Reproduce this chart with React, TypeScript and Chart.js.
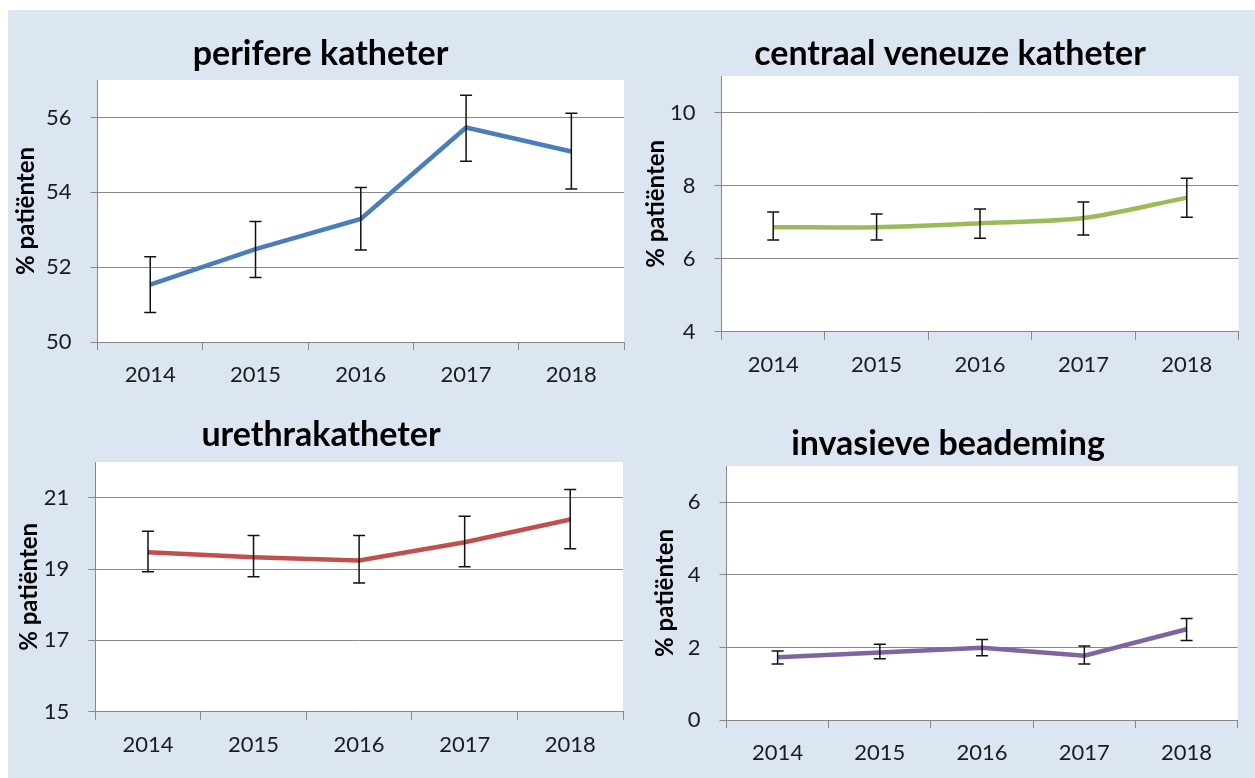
import React, { useEffect, useRef } from "react";
import { Chart, registerables } from "chart.js";

Chart.register(...registerables);

// ---------- data ----------
const YEARS = ["2014", "2015", "2016", "2017", "2018"];
const Y_TITLE = "% patiënten";

const PERIFEER_TITLE = "perifere katheter";
const PERIFEER = [51.53, 52.48, 53.29, 55.73, 55.09];
const PERIFEER_LOW = [50.79, 51.72, 52.46, 54.83, 54.09];
const PERIFEER_HIGH = [52.28, 53.22, 54.13, 56.59, 56.11];
const PERIFEER_TICKS = [50, 52, 54, 56];
const PERIFEER_RANGE = [50, 57];

const CVK_TITLE = "centraal veneuze katheter";
const CVK = [6.86, 6.86, 6.97, 7.11, 7.67];
const CVK_LOW = [6.51, 6.51, 6.56, 6.65, 7.13];
const CVK_HIGH = [7.28, 7.22, 7.36, 7.55, 8.2];
const CVK_TICKS = [4, 6, 8, 10];
const CVK_RANGE = [4, 11];

const URETHRA_TITLE = "urethrakatheter";
const URETHRA = [19.47, 19.33, 19.24, 19.75, 20.39];
const URETHRA_LOW = [18.92, 18.78, 18.61, 19.06, 19.57];
const URETHRA_HIGH = [20.06, 19.94, 19.94, 20.48, 21.23];
const URETHRA_TICKS = [15, 17, 19, 21];
const URETHRA_RANGE = [15, 22];

const BEADEMING_TITLE = "invasieve beademing";
const BEADEMING = [1.73, 1.86, 1.99, 1.77, 2.5];
const BEADEMING_LOW = [1.54, 1.69, 1.77, 1.54, 2.19];
const BEADEMING_HIGH = [1.9, 2.09, 2.22, 2.04, 2.8];
const BEADEMING_TICKS = [0, 2, 4, 6];
const BEADEMING_RANGE = [0, 7];

// ---------- styling ----------
const BG = "#dce6f2";
const GRID = "#878787";
const TXT = "#1b1b1b";
const FONT = "Lato, 'Noto Sans', sans-serif";

const bgPlugin = {
  id: "plotBg",
  beforeDraw(chart: any) {
    const { ctx, chartArea } = chart;
    if (!chartArea) return;
    ctx.save();
    ctx.fillStyle = "#ffffff";
    ctx.fillRect(chartArea.left, chartArea.top, chartArea.right - chartArea.left, chartArea.bottom - chartArea.top);
    ctx.restore();
  },
};

const errorBarPlugin = {
  id: "errorBars",
  afterDatasetsDraw(chart: any, _args: any, opts: any) {
    const { ctx } = chart;
    const xs = chart.scales.x;
    const ys = chart.scales.y;
    const low: number[] = opts.low || [];
    const high: number[] = opts.high || [];
    ctx.save();
    ctx.strokeStyle = "#111";
    ctx.lineWidth = 1.5;
    for (let i = 0; i < low.length; i++) {
      const x = xs.getPixelForValue(i);
      const y1 = ys.getPixelForValue(low[i]);
      const y2 = ys.getPixelForValue(high[i]);
      ctx.beginPath();
      ctx.moveTo(x, y1);
      ctx.lineTo(x, y2);
      ctx.moveTo(x - 6, y1);
      ctx.lineTo(x + 6, y1);
      ctx.moveTo(x - 6, y2);
      ctx.lineTo(x + 6, y2);
      ctx.stroke();
    }
    ctx.restore();
  },
};

type Panel = {
  title: string;
  values: number[];
  low: number[];
  high: number[];
  ticks: number[];
  range: number[];
  color: string;
  tension: number;
  left: number;
  top: number;
  width: number;
  height: number;
  yw: number;
  xh: number;
  padLeft: number;
  padRight: number;
  titleTop: number;
  titleBottom: number;
  ytPad: number;
};

const PANELS: Panel[] = [
  {
    title: PERIFEER_TITLE, values: PERIFEER, low: PERIFEER_LOW, high: PERIFEER_HIGH,
    ticks: PERIFEER_TICKS, range: PERIFEER_RANGE, color: "#4a7ebb", tension: 0,
    left: 8, top: 10, width: 625, height: 385, padLeft: 9, yw: 80.6, xh: 53, padRight: 9,
    titleTop: 24.1, titleBottom: 5.1, ytPad: -4.9,
  },
  {
    title: CVK_TITLE, values: CVK, low: CVK_LOW, high: CVK_HIGH,
    ticks: CVK_TICKS, range: CVK_RANGE, color: "#9bbb59", tension: 0.3,
    left: 640, top: 10, width: 620, height: 385, padLeft: 21.5, yw: 60, xh: 63.3, padRight: 21.5,
    titleTop: 24.1, titleBottom: 1.1, ytPad: -19.9,
  },
  {
    title: URETHRA_TITLE, values: URETHRA, low: URETHRA_LOW, high: URETHRA_HIGH,
    ticks: URETHRA_TICKS, range: URETHRA_RANGE, color: "#c0504d", tension: 0,
    left: 8, top: 395, width: 626, height: 383, padLeft: 11, yw: 76.2, xh: 66.3, padRight: 11,
    titleTop: 19.6, titleBottom: 6.6, ytPad: -3.9,
  },
  {
    title: BEADEMING_TITLE, values: BEADEMING, low: BEADEMING_LOW, high: BEADEMING_HIGH,
    ticks: BEADEMING_TICKS, range: BEADEMING_RANGE, color: "#8064a2", tension: 0,
    left: 640, top: 395, width: 616, height: 383, padLeft: 18.3, yw: 68.2, xh: 58, padRight: 18.3,
    titleTop: 28.3, titleBottom: 1.9, ytPad: -7.7,
  },
];

function PanelChart({ p }: { p: Panel }) {
  const ref = useRef<HTMLCanvasElement | null>(null);
  useEffect(() => {
    if (!ref.current) return;
    const chart = new Chart(ref.current, {
      type: "line",
      data: {
        labels: YEARS,
        datasets: [
          {
            data: p.values,
            borderColor: p.color,
            backgroundColor: p.color,
            borderWidth: 4.5,
            pointRadius: 0,
            tension: p.tension,
            fill: false,
          },
        ],
      },
      options: {
        responsive: false,
        animation: false,
        events: [],
        layout: { padding: { left: p.padLeft, right: p.padRight, top: 0, bottom: 0 } },
        plugins: {
          legend: { display: false },
          tooltip: { enabled: false },
          title: {
            display: true,
            text: p.title,
            color: "#000",
            font: { family: FONT, size: 34, weight: "bold", lineHeight: 1.2 },
            padding: { top: p.titleTop, bottom: p.titleBottom },
          },
          errorBars: { low: p.low, high: p.high },
        } as any,
        scales: {
          x: {
            type: "category",
            offset: true,
            grid: { offset: true, drawOnChartArea: false, drawTicks: true, tickLength: 8, color: GRID, lineWidth: 1 },
            border: { color: GRID, width: 1 },
            ticks: { color: TXT, font: { family: FONT, size: 22 }, padding: 12, maxRotation: 0, autoSkip: false },
            afterFit: (s: any) => { s.height = p.xh; },
          },
          y: {
            min: p.range[0],
            max: p.range[1],
            grid: { color: GRID, lineWidth: 1, tickLength: 7 },
            border: { color: GRID, width: 1 },
            ticks: { color: TXT, font: { family: FONT, size: 22 }, padding: 19 },
            afterBuildTicks: (a: any) => { a.ticks = p.ticks.map((v) => ({ value: v })); },
            afterFit: (s: any) => { s.width = p.yw; },
            title: {
              display: true,
              text: Y_TITLE,
              color: "#000",
              font: { family: FONT, size: 24, weight: "bold", lineHeight: 1.2 },
              padding: { top: p.ytPad, bottom: 0 },
            },
          },
        },
      },
      plugins: [bgPlugin, errorBarPlugin],
    } as any);
    return () => chart.destroy();
  }, [p]);
  return (
    <canvas
      ref={ref}
      width={p.width}
      height={p.height}
      style={{ position: "absolute", left: p.left, top: p.top, width: p.width, height: p.height, display: "block" }}
    />
  );
}

export default function App() {
  return (
    <div style={{ position: "fixed", left: 0, top: 0, width: 1255, height: 778, overflow: "hidden", background: "#fff" }}>
      <div style={{ position: "absolute", left: 8, top: 10, right: 0, bottom: 0, background: BG }} />
      {PANELS.map((p, i) => (
        <PanelChart key={i} p={p} />
      ))}
    </div>
  );
}
